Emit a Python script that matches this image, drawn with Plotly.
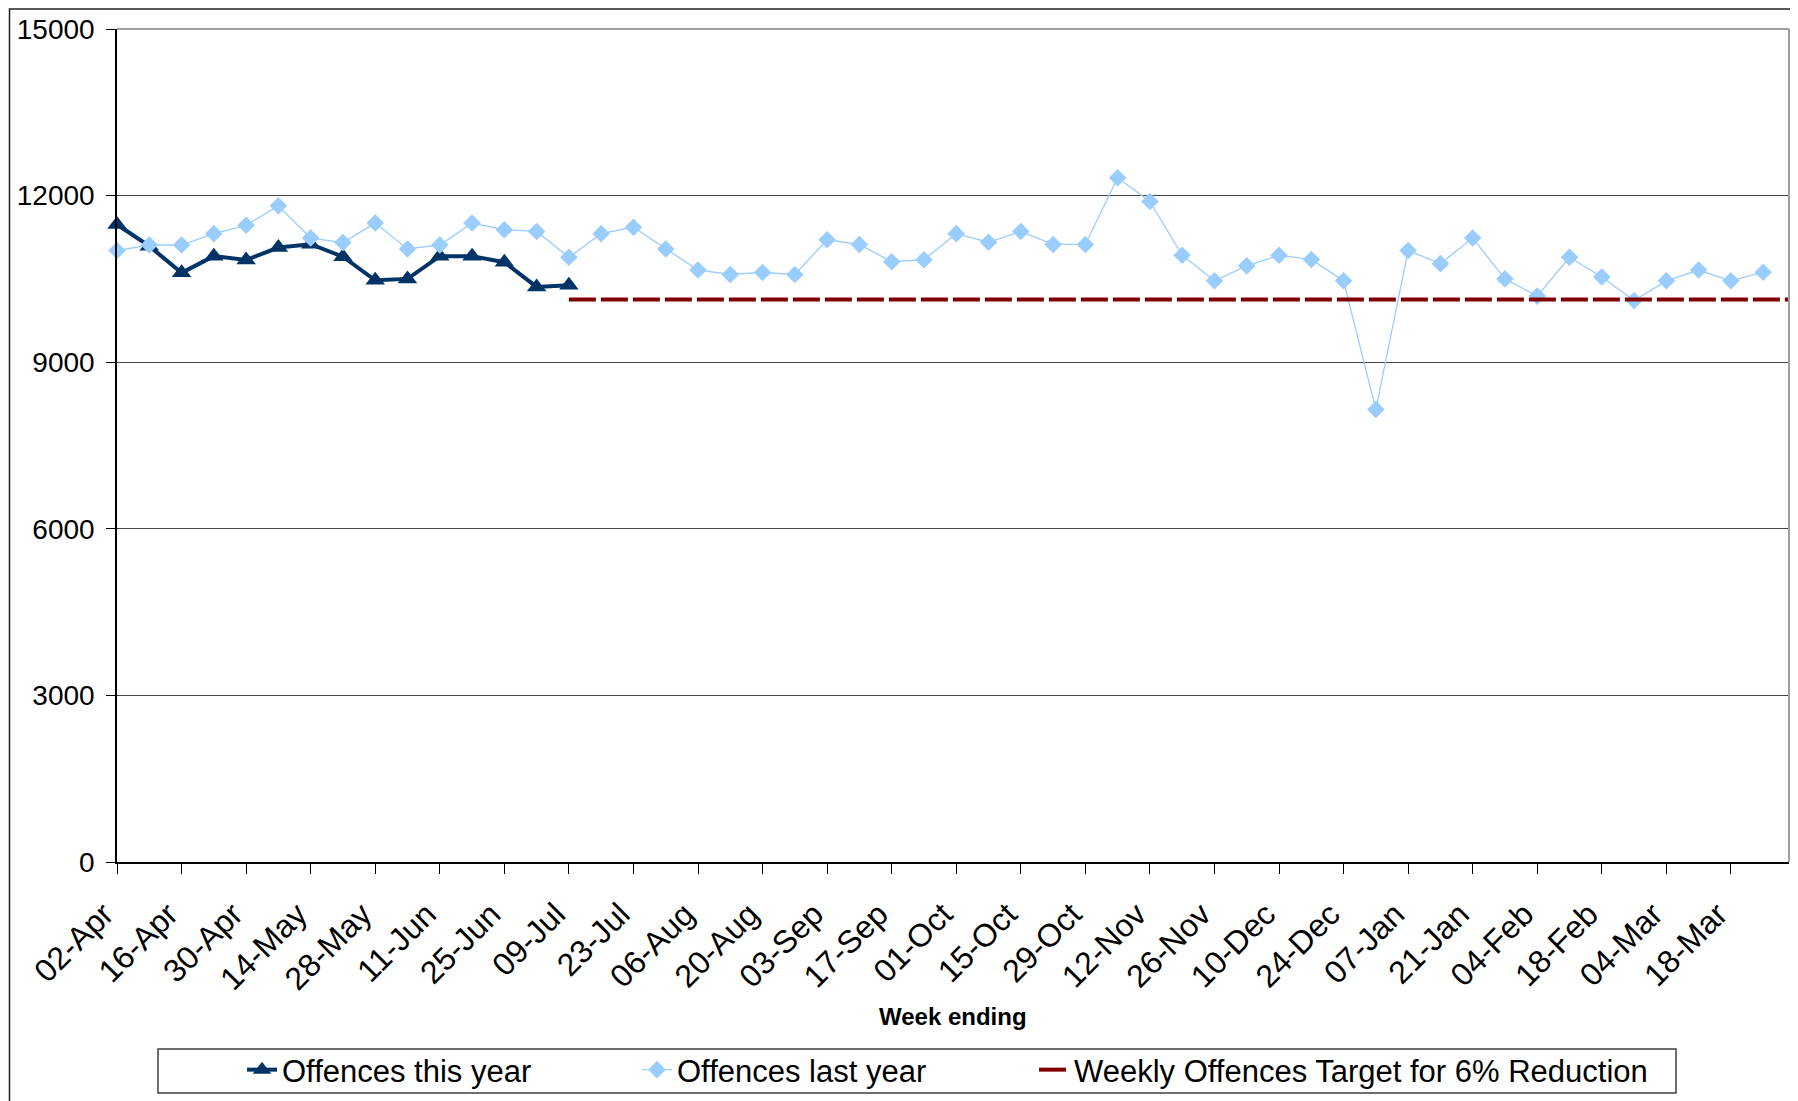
import plotly.graph_objects as go

weeks = ["02-Apr", "09-Apr", "16-Apr", "23-Apr", "30-Apr", "07-May", "14-May", "21-May",
         "28-May", "04-Jun", "11-Jun", "18-Jun", "25-Jun", "02-Jul", "09-Jul", "16-Jul",
         "23-Jul", "30-Jul", "06-Aug", "13-Aug", "20-Aug", "27-Aug", "03-Sep", "10-Sep",
         "17-Sep", "24-Sep", "01-Oct", "08-Oct", "15-Oct", "22-Oct", "29-Oct", "05-Nov",
         "12-Nov", "19-Nov", "26-Nov", "03-Dec", "10-Dec", "17-Dec", "24-Dec", "31-Dec",
         "07-Jan", "14-Jan", "21-Jan", "28-Jan", "04-Feb", "11-Feb", "18-Feb", "25-Feb",
         "04-Mar", "11-Mar", "18-Mar", "25-Mar", "01-Apr"]

tick_labels = ["02-Apr", "16-Apr", "30-Apr", "14-May", "28-May", "11-Jun", "25-Jun", "09-Jul",
               "23-Jul", "06-Aug", "20-Aug", "03-Sep", "17-Sep", "01-Oct", "15-Oct", "29-Oct",
               "12-Nov", "26-Nov", "10-Dec", "24-Dec", "07-Jan", "21-Jan", "04-Feb", "18-Feb",
               "04-Mar", "18-Mar"]

this_year = [11480, 11090, 10610, 10910, 10840, 11065, 11125, 10900, 10475, 10500,
             10910, 10910, 10800, 10355, 10385]

last_year = [11010, 11110, 11110, 11315, 11465, 11815, 11235, 11155, 11505, 11040,
             11110, 11505, 11385, 11355, 10890, 11315, 11430, 11040, 10660, 10580,
             10615, 10580, 11205, 11120, 10810, 10845, 11315, 11160, 11355, 11120,
             11120, 12320, 11895, 10925, 10465, 10735, 10925, 10850, 10465, 8150,
             11010, 10775, 11235, 10500, 10190, 10890, 10535, 10110, 10465, 10660,
             10465, 10620]

target = [None, None, None, None, None, None, None, None, None, None, None, None, None, None,
          10130, 10130, 10130, 10130, 10130, 10130, 10130, 10130, 10130, 10130, 10130, 10130,
          10130, 10130, 10130, 10130, 10130, 10130, 10130, 10130, 10130, 10130, 10130, 10130,
          10130, 10130, 10130, 10130, 10130, 10130, 10130, 10130, 10130, 10130, 10130, 10130,
          10130, 10130, 10130]

FONT = "Liberation Sans, Arial, sans-serif"

fig = go.Figure()
fig.add_trace(go.Scatter(
    x=weeks[:len(this_year)], y=this_year, name="Offences this year",
    mode="lines+markers", cliponaxis=False, legend="legend",
    line=dict(color="#003366", width=4),
    marker=dict(symbol="triangle-up", size=17, color="#003366"),
))
fig.add_trace(go.Scatter(
    x=weeks[:len(last_year)], y=last_year, name="Offences last year",
    mode="lines+markers", cliponaxis=False, legend="legend",
    line=dict(color="#99CCFF", width=1.3),
    marker=dict(symbol="diamond", size=13.5, color="#99CCFF"),
))
fig.add_trace(go.Scatter(
    x=weeks, y=target, name="Weekly Offences Target for 6% Reduction",
    mode="lines", connectgaps=False, legend="legend2",
    line=dict(color="#800000", width=4, dash="27px,5px"),
))

# page body has an 8px margin; work in page pixels and convert
OFF = 8
W, H = 1798 - OFF, 1101 - OFF
L, R, T, B = 117 - OFF, 1789 - OFF, 29 - OFF, 862 - OFF
pw, ph = R - L, B - T


def px_x(x):
    return (x - OFF - L) / pw


def px_y(y):
    return (B - (y - OFF)) / ph


LEG_TOP = 1043
leg_common = dict(
    orientation="h", xref="container", yref="container",
    y=1 - (LEG_TOP - OFF) / H, yanchor="top", xanchor="left",
    borderwidth=0, bgcolor="rgba(0,0,0,0)",
    font=dict(size=31, family=FONT, color="black"),
)

fig.update_layout(
    width=W, height=H,
    margin=dict(l=L, r=W - R, t=T, b=H - B, autoexpand=False),
    paper_bgcolor="white", plot_bgcolor="white",
    font=dict(family=FONT, color="black", size=28),
    showlegend=True,
    legend=dict(x=(242 - OFF) / W, entrywidth=350, **leg_common),
    legend2=dict(x=(1034 - OFF) / W, **leg_common),
    xaxis=dict(
        type="category", categoryorder="array", categoryarray=weeks,
        range=[0, 51.8], tickmode="array", tickvals=tick_labels, ticktext=tick_labels,
        tickangle=-45, ticks="outside", ticklen=10, tickcolor="black",
        showline=True, linecolor="black", linewidth=1.5,
        showgrid=False, zeroline=False, automargin=False,
        tickfont=dict(size=32, family=FONT), ticklabelshift=-13, ticklabelstandoff=9,
    ),
    yaxis=dict(
        range=[0, 15000], tickmode="linear", tick0=0, dtick=3000, tickformat="d",
        ticks="outside", ticklen=9, tickcolor="black",
        showline=True, linecolor="black", linewidth=1.5,
        showgrid=True, gridcolor="#454545", gridwidth=1,
        zeroline=False, automargin=False, tickfont=dict(size=28, family=FONT),
        ticklabelstandoff=6,
    ),
    annotations=[dict(
        text="<b>Week ending</b>", xref="paper", yref="paper",
        x=px_x(953), y=px_y(1016), xanchor="center", yanchor="middle",
        showarrow=False, font=dict(size=24, family=FONT, color="black"),
    )],
    shapes=[
        dict(type="line", xref="paper", yref="paper", x0=0, x1=1, y0=1, y1=1,
             line=dict(color="#a0a0a0", width=2)),
        dict(type="line", xref="paper", yref="paper", x0=1, x1=1, y0=0, y1=1,
             line=dict(color="#a0a0a0", width=2)),
        dict(type="rect", xref="paper", yref="paper",
             x0=px_x(9.5), x1=1.2, y0=-0.5, y1=px_y(9),
             line=dict(color="#222222", width=1.5), layer="below"),
        dict(type="rect", xref="paper", yref="paper",
             x0=px_x(158), x1=px_x(1676), y0=px_y(1093), y1=px_y(1049),
             line=dict(color="#404040", width=1.5), layer="below"),
    ],
)

fig.write_html("out.html")
